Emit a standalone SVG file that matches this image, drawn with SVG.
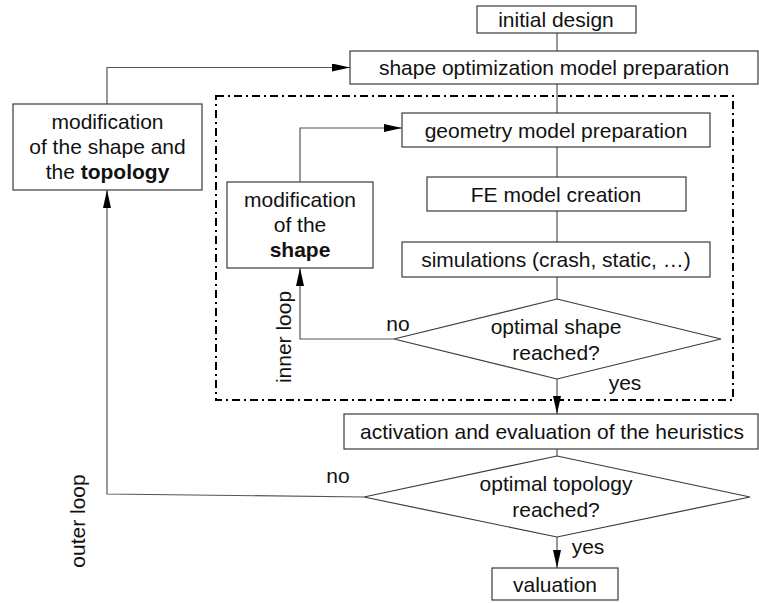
<svg xmlns="http://www.w3.org/2000/svg" width="759" height="603" viewBox="0 0 759 603">
  <style>
    .box { fill: #ffffff; stroke: #3a3a3a; stroke-width: 1.2; }
    .line { fill: none; stroke: #555555; stroke-width: 1.2; }
    .frame { fill: none; stroke: #000000; stroke-width: 2; stroke-dasharray: 8 4 2 4; }
    text { font-family: "Liberation Sans", Arial, sans-serif; font-size: 21px; fill: #111111; }
    .c { text-anchor: middle; }
    .b { font-weight: bold; }
  </style>
  <defs>
    <marker id="arrow" viewBox="0 0 18 8" refX="18" refY="4" markerWidth="18" markerHeight="8" markerUnits="userSpaceOnUse" orient="auto">
      <path d="M0,0 L18,4 L0,8 Z" fill="#000000"/>
    </marker>
  </defs>

  <rect fill="#ffffff" x="0" y="0" width="759" height="603"/>

  <!-- inner loop frame -->
  <rect class="frame" x="216" y="96" width="517" height="304"/>

  <g id="connectors">
    <line class="line" x1="557" y1="33" x2="557" y2="51"/>
    <line class="line" x1="557" y1="84" x2="557" y2="113"/>
    <line class="line" x1="557" y1="147" x2="557" y2="177"/>
    <line class="line" x1="557" y1="211" x2="557" y2="242"/>
    <line class="line" x1="557" y1="277" x2="557" y2="299"/>
    <line class="line" x1="557" y1="379" x2="557" y2="414" marker-end="url(#arrow)"/>
    <line class="line" x1="557" y1="449" x2="557" y2="456"/>
    <line class="line" x1="557" y1="537" x2="557" y2="568" marker-end="url(#arrow)"/>
    <!-- inner loop -->
    <polyline class="line" points="394,339 300,339 300,268" marker-end="url(#arrow)"/>
    <polyline class="line" points="300,182 300,128 402,128" marker-end="url(#arrow)"/>
    <!-- outer loop -->
    <polyline class="line" points="364,497 107,494 107,190" marker-end="url(#arrow)"/>
    <polyline class="line" points="107,104 107,67.5 350,67.5" marker-end="url(#arrow)"/>
  </g>

  <g id="initial-design">
    <rect class="box" x="477" y="6" width="159" height="27"/>
    <text class="c" x="556" y="27">initial design</text>
  </g>

  <g id="shape-optimization-model">
    <rect class="box" x="350" y="51" width="408" height="33"/>
    <text class="c" x="554" y="75">shape optimization model preparation</text>
  </g>

  <g id="geometry-model">
    <rect class="box" x="402" y="113" width="308" height="34"/>
    <text class="c" x="556" y="137.5">geometry model preparation</text>
  </g>

  <g id="fe-model">
    <rect class="box" x="427" y="177" width="259" height="34"/>
    <text class="c" x="556" y="201.5">FE model creation</text>
  </g>

  <g id="simulations">
    <rect class="box" x="402" y="242" width="308" height="35"/>
    <text class="c" x="556" y="267">simulations (crash, static, …)</text>
  </g>

  <g id="optimal-shape">
    <polygon class="box" points="557,299 721,339 557,379 394,339"/>
    <text class="c" x="556" y="334">optimal shape</text>
    <text class="c" x="556" y="360">reached?</text>
    <text class="c" x="398" y="331">no</text>
    <text class="c" x="625" y="390">yes</text>
  </g>

  <g id="modification-shape">
    <rect class="box" x="227" y="182" width="146" height="86"/>
    <text class="c" x="300" y="207">modification</text>
    <text class="c" x="300" y="232">of the</text>
    <text class="c b" x="300" y="257">shape</text>
  </g>

  <text transform="translate(291,337) rotate(-90)" class="c">inner loop</text>

  <g id="modification-topology">
    <rect class="box" x="13" y="104" width="189" height="86"/>
    <text class="c" x="107.5" y="129">modification</text>
    <text class="c" x="107.5" y="154">of the shape and</text>
    <text class="c" x="107.5" y="179">the <tspan class="b">topology</tspan></text>
  </g>

  <text transform="translate(85,521) rotate(-90)" class="c">outer loop</text>

  <g id="heuristics">
    <rect class="box" x="344" y="414" width="414" height="35"/>
    <text class="c" x="552" y="439">activation and evaluation of the heuristics</text>
  </g>

  <g id="optimal-topology">
    <polygon class="box" points="557,456 750,497 557,537 364,497"/>
    <text class="c" x="556" y="491">optimal topology</text>
    <text class="c" x="556" y="517">reached?</text>
    <text class="c" x="338" y="483">no</text>
    <text class="c" x="588" y="554">yes</text>
  </g>

  <g id="valuation">
    <rect class="box" x="492" y="568" width="126" height="32"/>
    <text class="c" x="555" y="592">valuation</text>
  </g>
</svg>
